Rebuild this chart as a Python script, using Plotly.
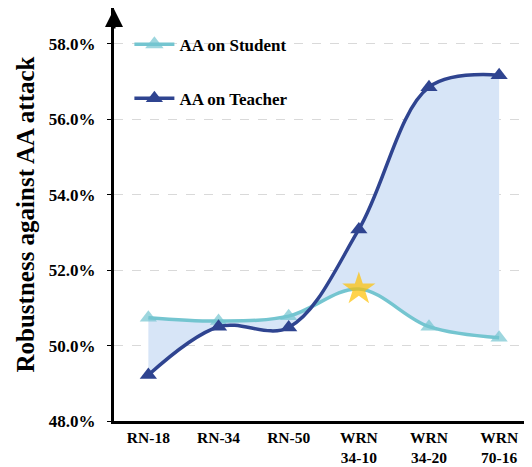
import plotly.graph_objects as go

categories = ["RN-18", "RN-34", "RN-50", "WRN<br>34-10", "WRN<br>34-20", "WRN<br>70-16"]
student = [50.74, 50.65, 50.78, 51.50, 50.50, 50.21]
teacher = [49.22, 50.50, 50.48, 53.08, 56.85, 57.17]
yticks = [48, 50, 52, 54, 56, 58]
ytick_text = ["48.0%", "50.0%", "52.0%", "54.0%", "56.0%", "58.0%"]

STU = "#74C5D0"
TEA = "#2F4490"
FILL = "#D7E5F7"
STAR = "#FFC000"
FONT = "Liberation Serif"

x = list(range(len(categories)))
fig = go.Figure()

# fill between curves
fig.add_trace(go.Scatter(x=x, y=student, mode="lines", line=dict(width=0, shape="spline", color=STU),
                         showlegend=False, hoverinfo="skip"))
fig.add_trace(go.Scatter(x=x, y=teacher, mode="lines", line=dict(width=0, shape="spline", color=TEA),
                         fill="tonexty", fillcolor=FILL, showlegend=False, hoverinfo="skip"))

stu_symbols = ["triangle-up"] * len(x)
stu_symbols[3] = "star"
stu_colors = [STU] * len(x)
stu_colors[3] = STAR
stu_sizes = [15] * len(x)
stu_sizes[3] = 25

fig.add_trace(go.Scatter(x=x, y=student, mode="lines+markers", name="AA on Student",
                         line=dict(color=STU, width=3.5, shape="spline"),
                         marker=dict(symbol=stu_symbols, color=stu_colors, size=stu_sizes, line=dict(width=0)),
                         legendgroup="s"))
fig.add_trace(go.Scatter(x=x, y=teacher, mode="lines+markers", name="AA on Teacher",
                         line=dict(color=TEA, width=3.5, shape="spline"),
                         marker=dict(symbol="triangle-up", color=TEA, size=15, line=dict(width=0)),
                         legendgroup="t"))

bold = dict(family=FONT, size=17, color="black", weight="bold")
xbold = dict(family=FONT, size=15.5, color="black", weight="bold")

# page body has an 8px default margin; compensate so plot sits where the reference does
fig.update_layout(
    width=524, height=459,
    margin=dict(l=106, r=2, t=0, b=46),
    plot_bgcolor="white", paper_bgcolor="white",
    font=bold,
    showlegend=True,
    legend=dict(x=0.037, y=0.955, xanchor="left", yanchor="top", bgcolor="rgba(0,0,0,0)",
                font=bold, tracegroupgap=29, itemwidth=40),
    xaxis=dict(range=[-0.49, 5.44], tickvals=x, ticktext=categories, showgrid=False,
               showline=True, linecolor="black", linewidth=3, ticks="", zeroline=False,
               tickfont=xbold, ticklabelstandoff=0, automargin=False),
    yaxis=dict(range=[48, 58.95], tickvals=yticks, ticktext=ytick_text, showgrid=True,
               gridcolor="#D9D9D9", griddash="dash", gridwidth=1,
               showline=True, linecolor="black", linewidth=3, ticks="outside", ticklen=4,
               tickcolor="black", zeroline=False, ticklabelstandoff=8, automargin=False,
               tickfont=bold,
               title=dict(text="Robustness against AA attack",
                          font=dict(family=FONT, size=25, color="black", weight="bold"),
                          standoff=8)),
)

fig.add_annotation(xref="paper", yref="paper", x=0, y=1.0, ax=0, ay=22, axref="pixel", ayref="pixel",
                   text="", showarrow=True, arrowhead=2, arrowsize=1.2, arrowwidth=3, arrowcolor="black")

fig.write_html("out.html")
